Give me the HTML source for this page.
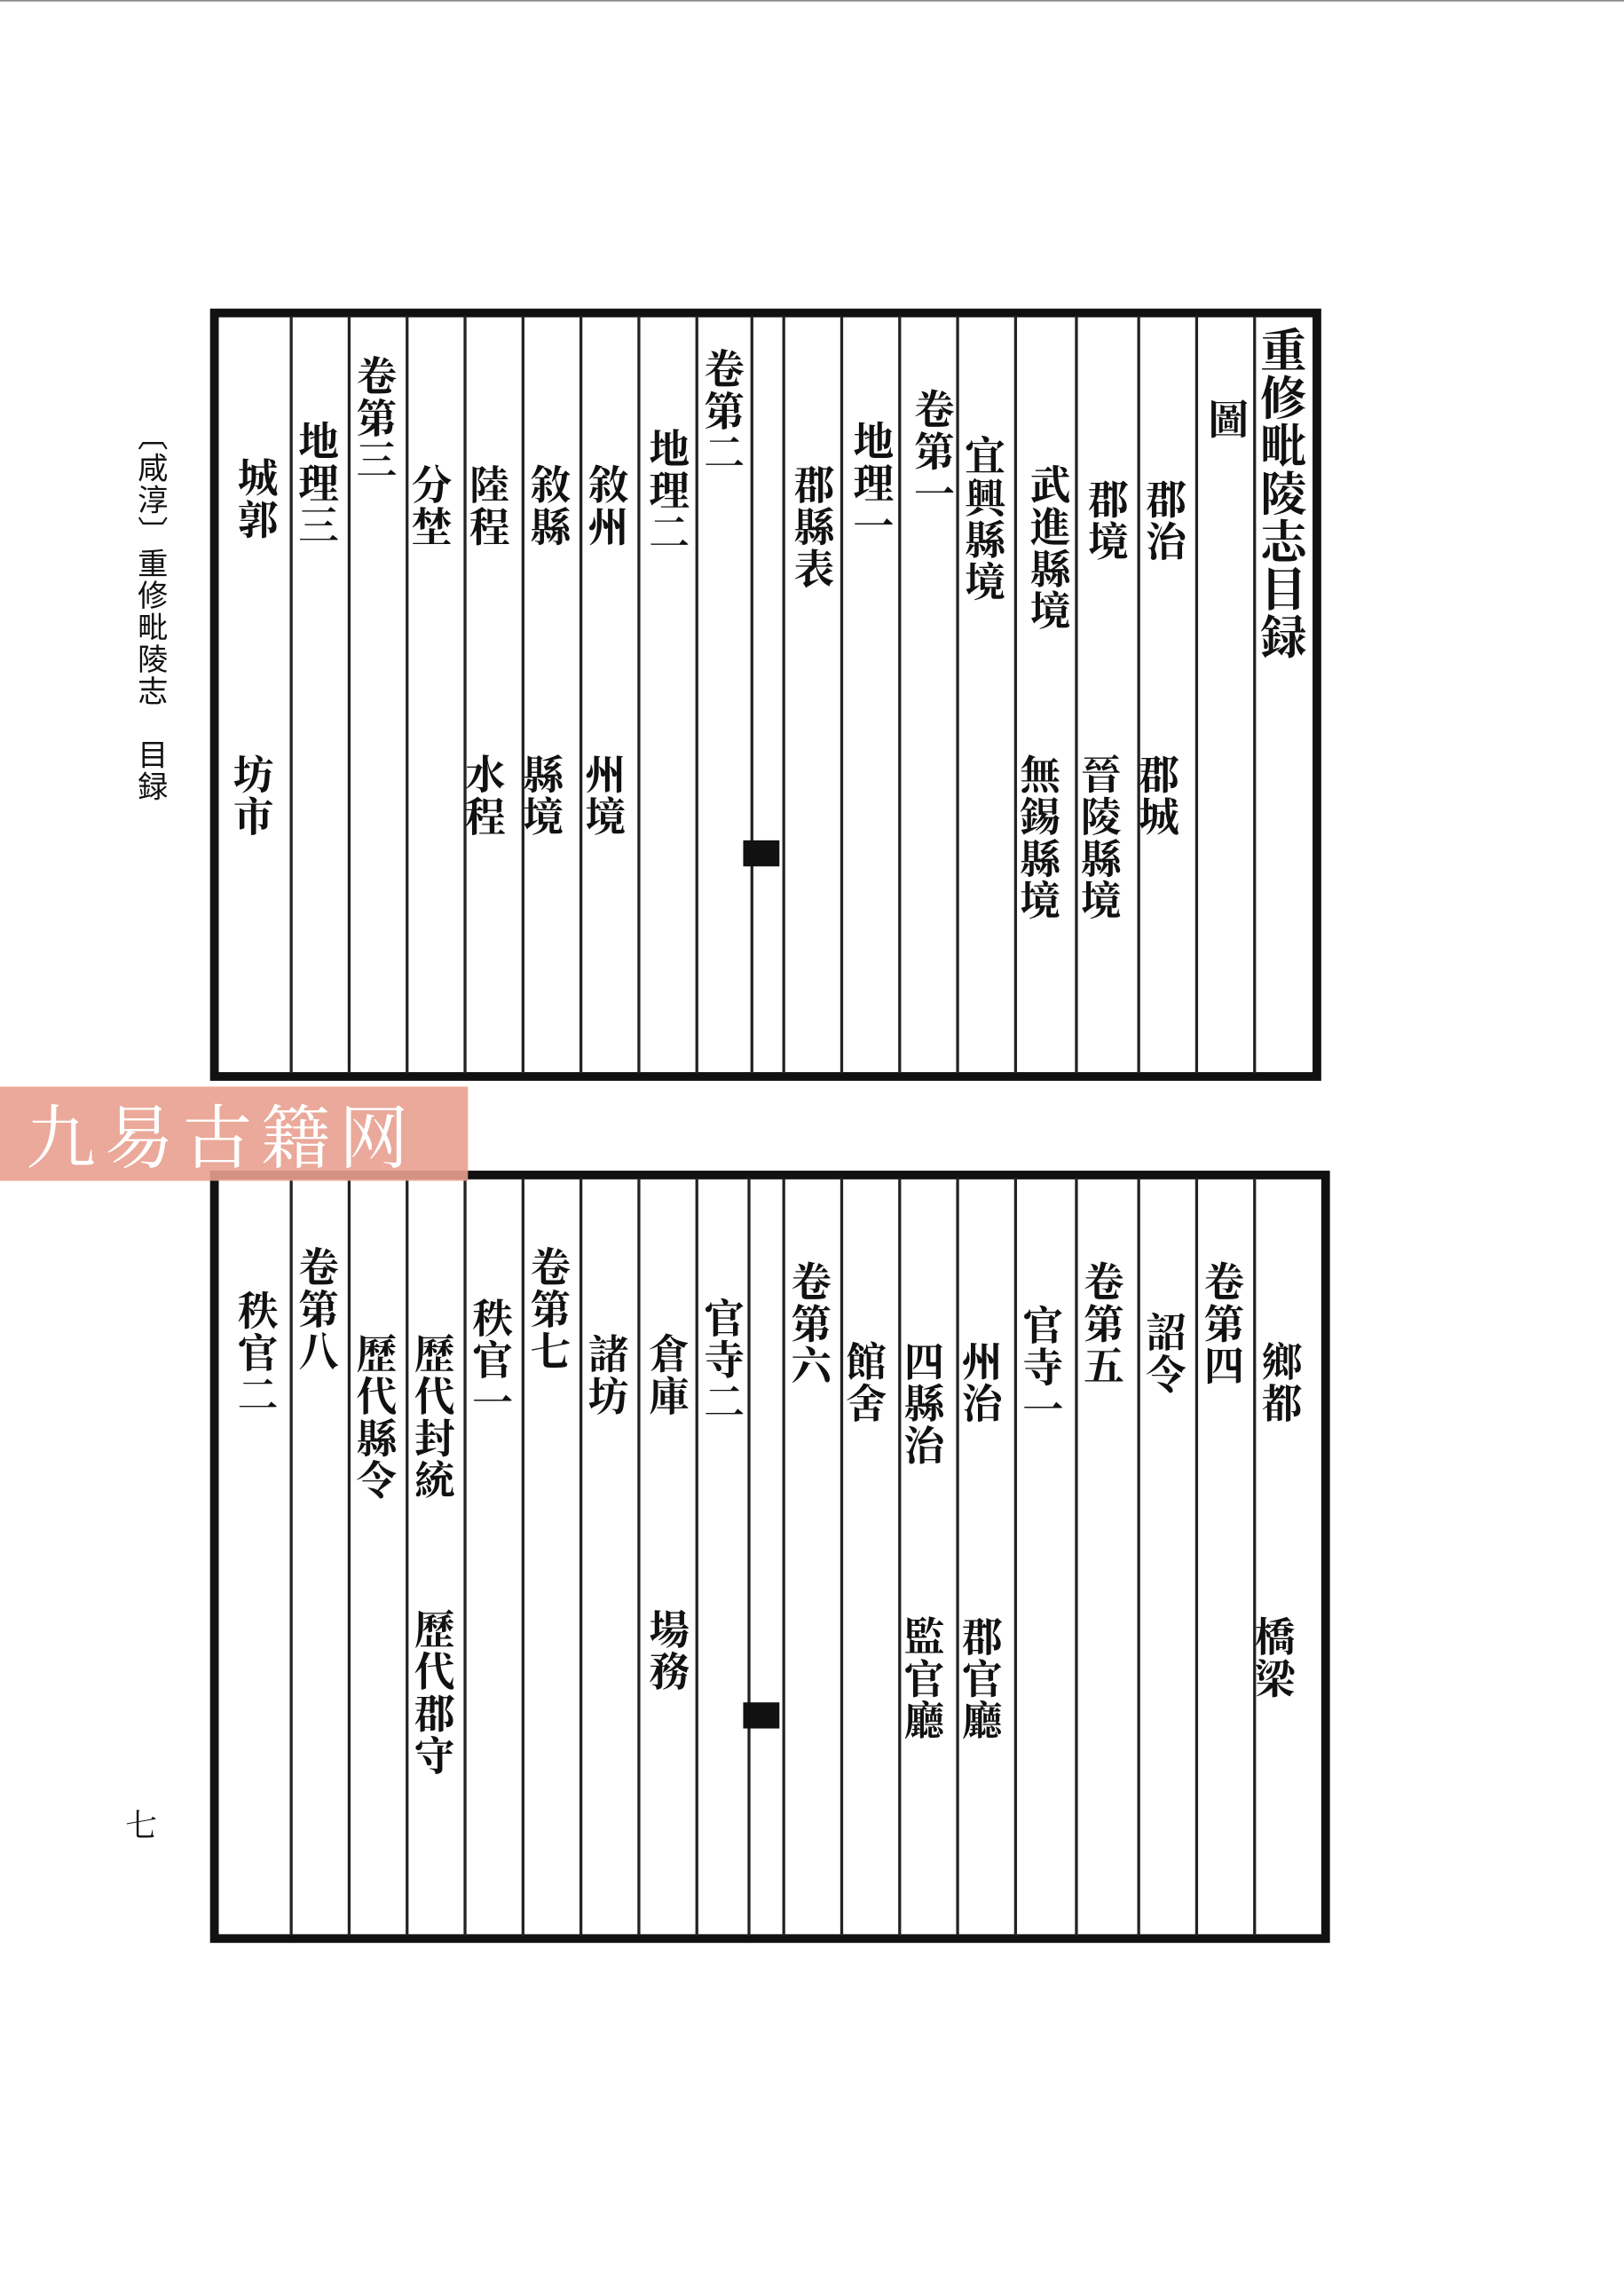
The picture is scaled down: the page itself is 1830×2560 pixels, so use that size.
<!DOCTYPE html>
<html><head><meta charset="utf-8"><style>
html,body{margin:0;padding:0;background:#fff;}
body{width:1830px;height:2560px;overflow:hidden;position:relative;}
#w{position:absolute;left:0;top:0;width:1121px;height:1568px;transform:scale(1.6325);transform-origin:0 0;}
.p{position:absolute;border:6px solid #111;box-sizing:border-box;}
.l{position:absolute;width:1.5px;background:#222;}
.t{position:absolute;writing-mode:vertical-rl;font-family:"Noto Serif CJK SC","Noto Sans CJK TC",serif;font-weight:700;color:#111;font-size:28px;line-height:1;letter-spacing:1px;transform:translateX(-50%);}
.s{font-size:24px;font-weight:400;}
</style></head><body><div id="w">
<div style="position:absolute;left:0;top:0;width:1121px;height:1px;background:#888"></div>
<div class="t s" style="left:105px;top:290px;font-size:21px;font-family:'Noto Sans CJK SC',sans-serif;">〔咸淳〕重修毗陵志　目録</div>
<div class="t s" style="left:97px;top:1248px;font-size:22px;">七</div>

<div class="p" style="left:145px;top:213px;width:767px;height:533px;"></div>
<div class="p" style="left:145px;top:808px;width:773px;height:533px;"></div>

<div id="lines"></div>

<div class="t" style="left:886px;top:225px;font-size:32px;">重修毗陵志目録</div>
<div class="t" style="left:848px;top:275px;">圖</div>
<div class="t" style="left:805px;top:330px;">郡治</div><div class="t" style="left:800px;top:520px;">郡城</div>
<div class="t" style="left:765px;top:330px;">郡境</div><div class="t" style="left:760px;top:520px;">晉陵縣境</div>
<div class="t" style="left:725px;top:320px;">武進縣境</div><div class="t" style="left:718px;top:520px;">無錫縣境</div>
<div class="t" style="left:680px;top:300px;">宜興縣境</div>
<div class="t" style="left:645px;top:268px;">卷第一</div>
<div class="t" style="left:603px;top:290px;">地理一</div>
<div class="t" style="left:562px;top:320px;">郡縣表</div>
<div class="t" style="left:500px;top:240px;">卷第二</div>
<div class="t" style="left:462px;top:295px;">地理二</div>
<div class="t" style="left:420px;top:320px;">敘州</div><div class="t" style="left:418px;top:520px;">州境</div>
<div class="t" style="left:380px;top:320px;">敘縣</div><div class="t" style="left:375px;top:520px;">縣境</div>
<div class="t" style="left:338px;top:320px;">陸程</div><div class="t" style="left:335px;top:520px;">水程</div>
<div class="t" style="left:298px;top:320px;">分埜</div>
<div class="t" style="left:260px;top:245px;">卷第三</div>
<div class="t" style="left:220px;top:290px;">地理三</div>
<div class="t" style="left:178px;top:315px;">城郭</div><div class="t" style="left:175px;top:520px;">坊市</div>

<div class="t" style="left:885px;top:925px;">鄉都</div><div class="t" style="left:880px;top:1115px;">橋梁</div>
<div class="t" style="left:845px;top:870px;">卷第四</div>
<div class="t" style="left:805px;top:905px;">詔令</div>
<div class="t" style="left:762px;top:870px;">卷第五</div>
<div class="t" style="left:720px;top:900px;">官寺一</div>
<div class="t" style="left:678px;top:925px;">州治</div><div class="t" style="left:678px;top:1115px;">郡官廳</div>
<div class="t" style="left:638px;top:925px;">四縣治</div><div class="t" style="left:638px;top:1115px;">監官廳</div>
<div class="t" style="left:598px;top:925px;">館舍</div>
<div class="t" style="left:560px;top:870px;">卷第六</div>
<div class="t" style="left:500px;top:895px;">官寺二</div>
<div class="t" style="left:462px;top:920px;">倉庫</div><div class="t" style="left:462px;top:1110px;">場務</div>
<div class="t" style="left:420px;top:920px;">諸坊</div>
<div class="t" style="left:380px;top:860px;">卷第七</div>
<div class="t" style="left:340px;top:895px;">秩官一</div>
<div class="t" style="left:300px;top:920px;">歷代封統</div><div class="t" style="left:300px;top:1110px;">歷代郡守</div>
<div class="t" style="left:260px;top:920px;">歷代縣令</div>
<div class="t" style="left:220px;top:860px;">卷第八</div>
<div class="t" style="left:178px;top:890px;">秩官二</div>

<div style="position:absolute;left:0;top:750px;width:323px;height:65px;background:#e8a08f;opacity:.9;"></div>
<div style="position:absolute;left:18px;top:752px;font-family:'Noto Serif CJK SC',serif;font-size:48px;color:#fff;letter-spacing:6px;line-height:60px;">九易古籍网</div>
</div>
<script>
var xs=[200,240,280,320,360,400,440,480,518,540,580,620,660,700,742,785,825,865];
var h='';
xs.forEach(function(x){h+='<div class="l" style="left:'+x+'px;top:218px;height:523px"></div>';});
var xs2=[200,240,280,320,360,400,440,480,516,540,580,620,660,700,742,785,825,865];
xs2.forEach(function(x){h+='<div class="l" style="left:'+x+'px;top:813px;height:523px"></div>';});
h+='<div style="position:absolute;left:513px;top:580px;width:25px;height:18px;background:#111"></div>';
h+='<div style="position:absolute;left:513px;top:1175px;width:25px;height:18px;background:#111"></div>';
document.getElementById('lines').innerHTML=h;
</script>
</body></html>
